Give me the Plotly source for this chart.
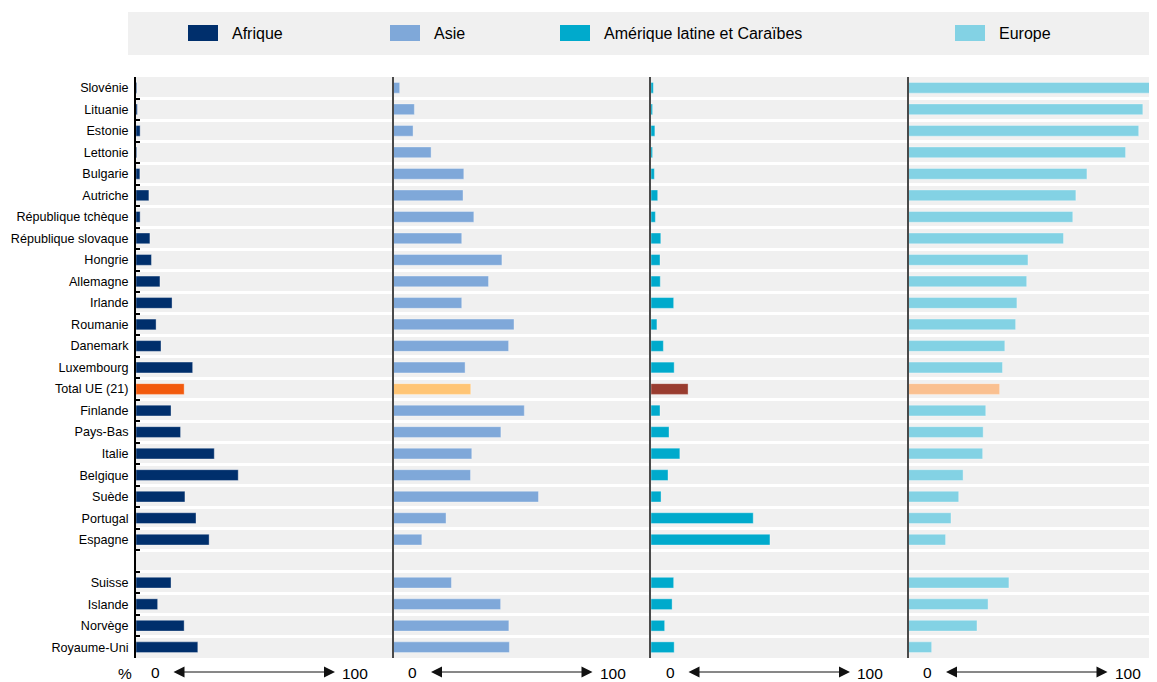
import plotly.graph_objects as go

# ---------------- data ----------------
countries = ["Slovénie", "Lituanie", "Estonie", "Lettonie", "Bulgarie", "Autriche",
             "République tchèque", "République slovaque", "Hongrie", "Allemagne",
             "Irlande", "Roumanie", "Danemark", "Luxembourg", "Total UE (21)",
             "Finlande", "Pays-Bas", "Italie", "Belgique", "Suède", "Portugal",
             "Espagne", " ", "Suisse", "Islande", "Norvège", "Royaume-Uni"]

afrique = [0.3, 0.5, 1.6, 0.3, 1.5, 5.0, 1.6, 5.4, 6.0, 9.3, 14.0, 7.8, 9.7, 22.0,
           18.7, 13.6, 17.3, 30.4, 39.7, 19.0, 23.3, 28.4, None, 13.6, 8.4, 18.7, 24.0]
asie = [2.4, 8.1, 7.6, 14.6, 27.3, 27.0, 31.2, 26.5, 42.1, 36.9, 26.5, 46.8, 44.7, 27.8,
        30.0, 50.8, 41.7, 30.4, 29.9, 56.3, 20.4, 11.0, None, 22.5, 41.6, 44.8, 45.0]
amerique = [0.9, 0.6, 1.5, 0.6, 1.3, 2.6, 1.7, 3.8, 3.5, 3.6, 8.8, 2.3, 4.8, 9.0,
            14.4, 3.5, 7.0, 11.2, 6.6, 3.9, 39.7, 46.2, None, 8.8, 8.2, 5.3, 9.0]
europe = [97.0, 91.0, 89.4, 84.3, 69.3, 65.0, 63.8, 60.2, 46.4, 45.9, 42.1, 41.6, 37.4, 36.5,
          35.4, 30.0, 29.0, 28.8, 21.2, 19.5, 16.5, 14.4, None, 39.0, 30.9, 26.6, 9.0]

series_names = ["Afrique", "Asie", "Amérique latine et Caraïbes", "Europe"]
series_values = [afrique, asie, amerique, europe]
base_colors = ["#002F6C", "#7FA8D9", "#00AACC", "#83D2E4"]
total_colors = ["#F25A0D", "#FFC575", "#993C2F", "#FAC090"]
total_label = "Total UE (21)"

# ---------------- layout geometry ----------------
# the page places the figure 8px from the top-left corner of the window
OFF = 8
W, H = 1157 - OFF, 682 - OFF
L, R, T, B = 136 - OFF, 0, 77 - OFF, 24
PW = W - L - R
PH = H - T - B
panel_px = 257.5


def fx(px):
    """screen x (reference pixels) -> paper x"""
    return (px - OFF - L) / PW


def fy(py):
    """screen y (reference pixels) -> paper y"""
    return (H - B - (py - OFF)) / PH


FONT = "Liberation Sans Narrow, Arial Narrow, Liberation Sans, Arial, sans-serif"

fig = go.Figure()

for i, (name, vals) in enumerate(zip(series_names, series_values)):
    colors = [total_colors[i] if c == total_label else base_colors[i] for c in countries]
    fig.add_trace(go.Bar(
        x=vals, y=countries, orientation="h", name=name,
        marker=dict(color=colors, line=dict(color="rgba(255,255,255,0.35)", width=1)),
        xaxis="x" if i == 0 else f"x{i+1}",
        yaxis="y" if i == 0 else f"y{i+1}",
        showlegend=False,
        hovertemplate="%{y}: %{x}<extra>" + name + "</extra>",
    ))

layout = dict(
    width=W, height=H,
    margin=dict(l=L, r=R, t=T, b=B),
    paper_bgcolor="white",
    plot_bgcolor="#F0F0F0",
    bargap=0.5,
    font=dict(family=FONT, size=13, color="#000"),
)

for i in range(4):
    x0 = (i * panel_px) / PW
    x1 = min(1.0, ((i + 1) * panel_px) / PW)
    xrng_max = 100 * (x1 - x0) * PW / panel_px
    xa = dict(domain=[x0, x1], range=[0, xrng_max], showticklabels=False,
              showgrid=False, zeroline=False, showline=False, fixedrange=True)
    if i == 0:
        ya = dict(domain=[0, 1], type="category", categoryorder="array",
                  categoryarray=countries, autorange="reversed",
                  tickson="boundaries", showgrid=True, gridcolor="white", gridwidth=2.5,
                  showline=True, linecolor="#000", linewidth=2,
                  ticks="inside", ticklen=4, tickcolor="#000", tickwidth=1.5,
                  ticklabelstandoff=3,
                  tickfont=dict(family=FONT, size=12.6, color="#000"),
                  anchor="x", zeroline=False)
    else:
        ya = dict(domain=[0, 1], matches="y", type="category",
                  tickson="boundaries", showgrid=True, gridcolor="white", gridwidth=2.5,
                  showline=True, linecolor="#4A4A4A", linewidth=2,
                  showticklabels=False, ticks="", anchor=f"x{i+1}", zeroline=False)
    xa["anchor"] = "y" if i == 0 else f"y{i+1}"
    layout["xaxis" if i == 0 else f"xaxis{i+1}"] = xa
    layout["yaxis" if i == 0 else f"yaxis{i+1}"] = ya

fig.update_layout(**layout)

shapes = []
annotations = []

# manual legend box
shapes.append(dict(type="rect", xref="paper", yref="paper",
                   x0=fx(128), x1=fx(1157), y0=fy(55), y1=fy(12),
                   fillcolor="#F0F0F0", line=dict(width=0), layer="below"))
legend_x = [188, 390, 560, 955]
for name, col, lx in zip(series_names, base_colors, legend_x):
    shapes.append(dict(type="rect", xref="paper", yref="paper",
                       x0=fx(lx), x1=fx(lx + 30), y0=fy(41), y1=fy(25),
                       fillcolor=col, line=dict(width=0)))
    annotations.append(dict(xref="paper", yref="paper", x=fx(lx + 42), y=fy(33),
                            text=name, showarrow=False, xanchor="left", yanchor="middle",
                            font=dict(family=FONT, size=16, color="#000")))

# bottom scale marks
annotations.append(dict(xref="paper", yref="paper", x=fx(125), y=fy(673), text="%",
                        showarrow=False, xanchor="center", yanchor="middle",
                        font=dict(family=FONT, size=15.5, color="#000")))
for i in range(4):
    off = i * panel_px
    annotations.append(dict(xref="paper", yref="paper", x=fx(155 + off), y=fy(672), text="0",
                            showarrow=False, xanchor="center", yanchor="middle",
                            font=dict(family=FONT, size=15.5, color="#000")))
    annotations.append(dict(xref="paper", yref="paper", x=fx(355 + off), y=fy(673), text="100",
                            showarrow=False, xanchor="center", yanchor="middle",
                            font=dict(family=FONT, size=15.5, color="#000")))
    annotations.append(dict(xref="paper", yref="paper", x=fx(335 + off), y=fy(672),
                            ax=-163, ay=0, text="", showarrow=True,
                            arrowside="end+start", arrowhead=2, arrowsize=2.2,
                            arrowwidth=1, arrowcolor="#111"))

fig.update_layout(shapes=shapes, annotations=annotations)

fig.write_html("out.html")
